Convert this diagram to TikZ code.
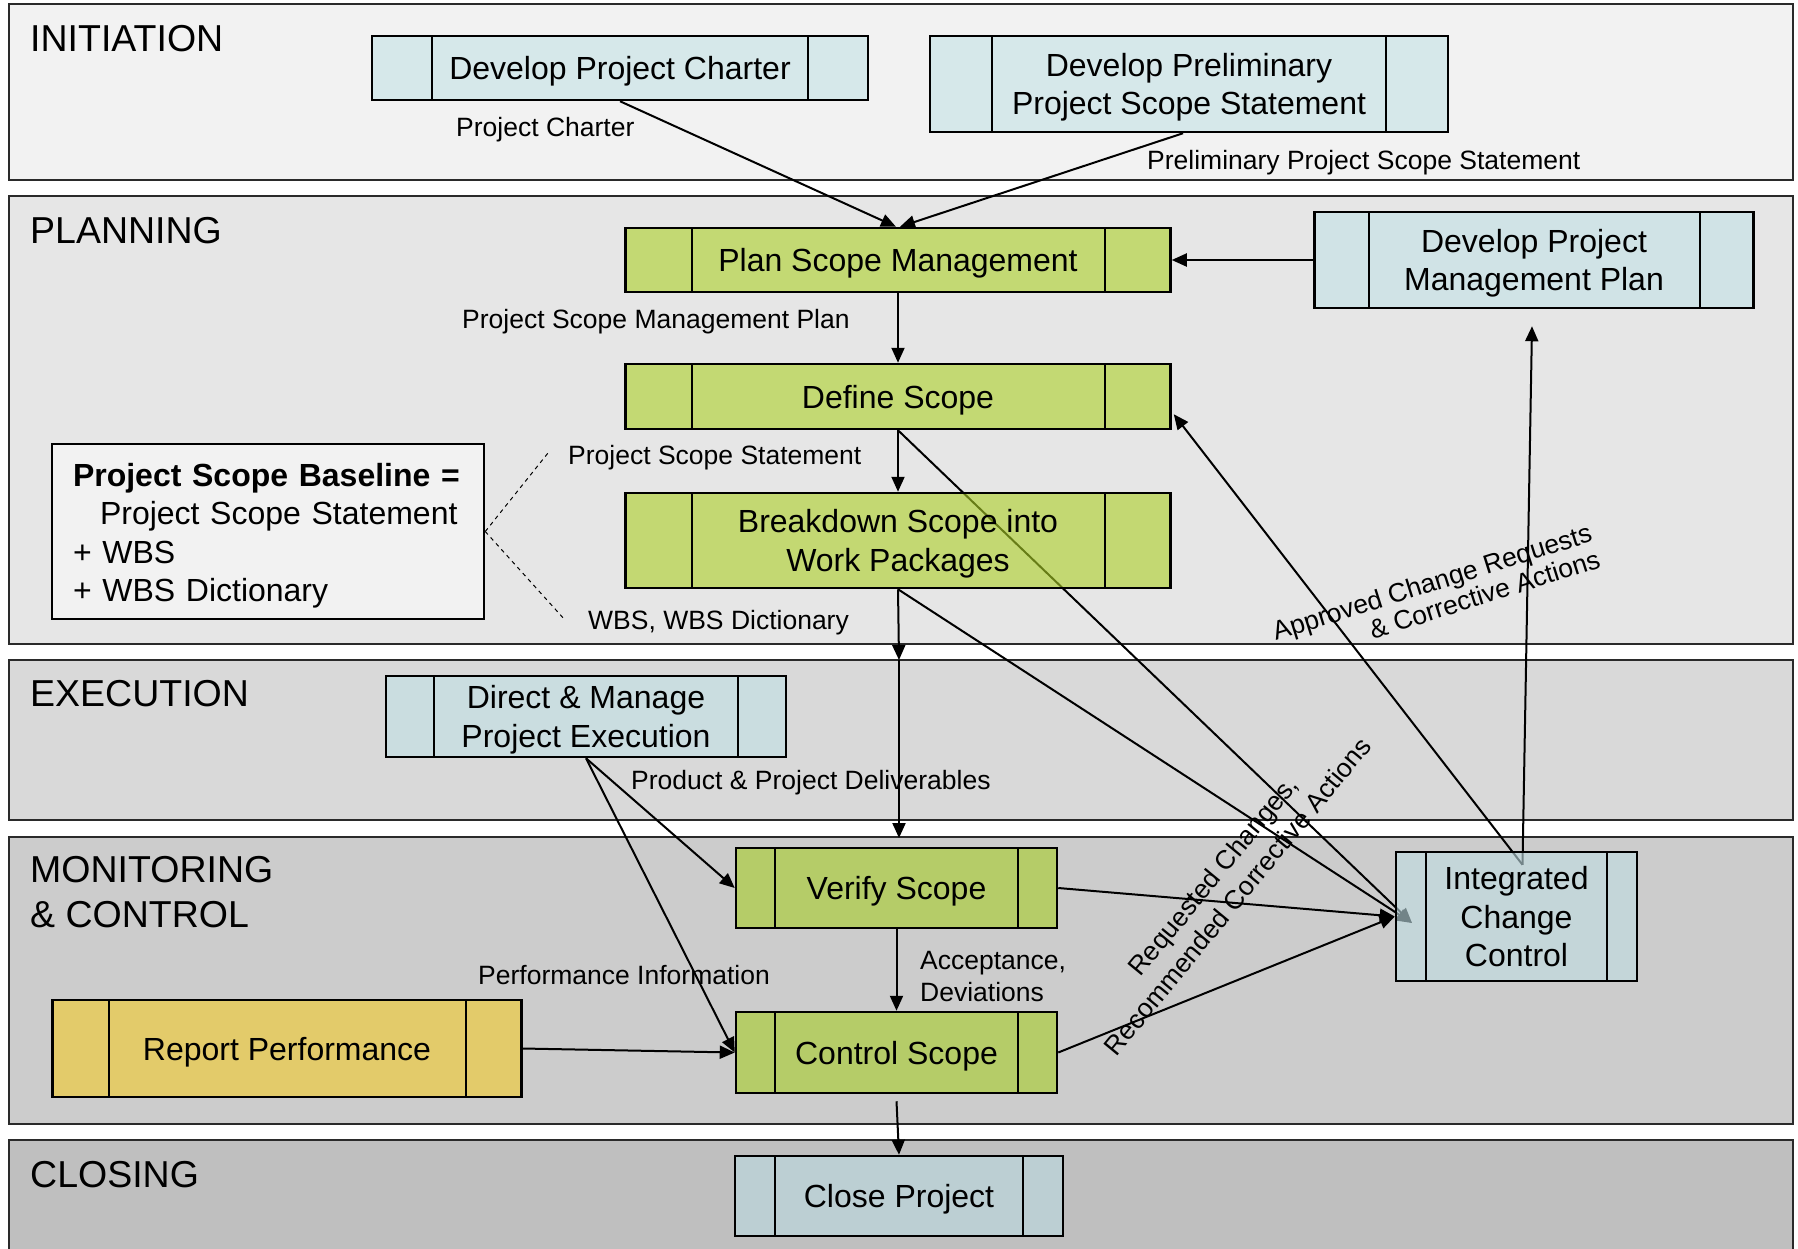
\documentclass[tikz,border=0pt]{standalone}
\usepackage{fontspec}
\setmainfont{Liberation Sans}
\usetikzlibrary{arrows.meta,calc}
\definecolor{laneI}{HTML}{F2F2F2}
\definecolor{laneP}{HTML}{E6E6E6}
\definecolor{laneE}{HTML}{D9D9D9}
\definecolor{laneM}{HTML}{CCCCCC}
\definecolor{laneC}{HTML}{BFBFBF}
\definecolor{blueI}{HTML}{D6E8EA}
\definecolor{blueP}{HTML}{D0E3E6}
\definecolor{blueE}{HTML}{CADDE0}
\definecolor{blueM}{HTML}{BFDDE3}
\definecolor{blueC}{HTML}{BCCFD3}
\definecolor{greenP}{HTML}{C3D973}
\definecolor{greenB}{HTML}{ACD026}
\definecolor{greenM}{HTML}{B5CC68}
\definecolor{goldR}{HTML}{E3CB6A}
\definecolor{laneline}{HTML}{2A2A2A}
\pgfdeclarelayer{lanes}
\pgfdeclarelayer{under}
\pgfsetlayers{lanes,under,main}
\tikzset{
  sidew/.store in=\sidew, sidew=60,
  procbox/.style={rectangle, draw=black, line width=2.5pt, inner sep=0pt, align=center,
    text depth=0pt, font=\fontsize{32}{38.5}\selectfont,
    path picture={
      \draw[line width=2pt] ([xshift=\sidew pt]path picture bounding box.north west) -- ([xshift=\sidew pt]path picture bounding box.south west);
      \draw[line width=2pt] ([xshift=-\sidew pt]path picture bounding box.north east) -- ([xshift=-\sidew pt]path picture bounding box.south east);
    }},
  basebox/.style={rectangle, draw=black, line width=2.5pt, fill=laneI, inner sep=0pt, align=left,
    text width=390pt, font=\fontsize{32}{38.5}\selectfont},
  lane/.style={draw=laneline, line width=2pt},
  lanetitle/.style={inner sep=0pt, font=\fontsize{37.5}{45}\selectfont},
  lbl/.style={inner sep=0pt, font=\fontsize{26.5}{31}\selectfont},
  conn/.style={line width=2pt, -{Triangle[length=15pt,width=13pt]}},
  dashline/.style={line width=1pt, dash pattern=on 4pt off 4pt}
}
\begin{document}
\begin{tikzpicture}[x=1pt,y=-1pt]
\useasboundingbox (0,0) rectangle (1798,1248);
\clip (0,0) rectangle (1798,1248);
\begin{pgfonlayer}{lanes}
\fill[white] (0,0) rectangle (1798,1248);
\draw[lane, fill=laneI] (9,4) rectangle (1793,180);
\draw[lane, fill=laneP] (9,196) rectangle (1793,644);
\draw[lane, fill=laneE] (9,660) rectangle (1793,820);
\draw[lane, fill=laneM] (9,837) rectangle (1793,1124);
\draw[lane, fill=laneC] (9,1140) rectangle (1793,1280);
\end{pgfonlayer}

% lane titles
\node[lanetitle, anchor=base west] (tinit) at (30,51) {INITIATION};
\node[lanetitle, anchor=base west] (tplan) at (30,243) {PLANNING};
\node[lanetitle, anchor=base west] (texec) at (30,706) {EXECUTION};
\node[lanetitle, anchor=west, align=left] (tmon) at (30,892.5) {MONITORING\\\& CONTROL};
\node[lanetitle, anchor=base west] (tclose) at (30,1187) {CLOSING};

% process boxes
\node[procbox, fill=blueI, sidew=60, minimum width=496pt, minimum height=64pt] (charter) at (620,68) {Develop Project Charter};
\node[procbox, fill=blueI, sidew=62, minimum width=518pt, minimum height=96pt] (prelim) at (1189,84) {Develop Preliminary\\Project Scope Statement};
\node[procbox, fill=greenP, sidew=66, minimum width=545pt, minimum height=64pt] (plan) at (898,260) {Plan Scope Management};
\node[procbox, fill=blueP, sidew=54, minimum width=439pt, minimum height=96pt] (dpmp) at (1534,260) {Develop Project\\Management Plan};
\node[procbox, fill=greenP, sidew=66, minimum width=545pt, minimum height=65pt] (define) at (898,396.5) {Define Scope};
\node[procbox, fill=greenB, fill opacity=0.6, text opacity=1, sidew=66, minimum width=545pt, minimum height=95pt] (breakdown) at (898,540.5) {Breakdown Scope into\\Work Packages};
\node[basebox, minimum width=432pt, minimum height=175pt] (baseline) at (268,531.5) {\rule{0pt}{32pt}\textbf{Project Scope Baseline =}\\\hspace*{27pt}Project Scope Statement\\+ WBS\\+ WBS Dictionary};
\node[procbox, fill=blueE, sidew=48, minimum width=400pt, minimum height=81pt] (direct) at (586,716.5) {Direct \& Manage\\Project Execution};
\node[procbox, fill=greenM, sidew=39, minimum width=321pt, minimum height=80pt] (verify) at (896.5,888) {Verify Scope};
\node[procbox, fill=greenM, sidew=39, minimum width=321pt, minimum height=81pt] (control) at (896.5,1052.5) {Control Scope};
\node[procbox, fill=goldR, sidew=56, minimum width=469pt, minimum height=97pt] (report) at (287,1048.5) {Report Performance};
\node[procbox, fill=blueM, fill opacity=0.6, text opacity=1, sidew=30, minimum width=241pt, minimum height=129pt] (icc) at (1516.5,916.5) {Integrated\\Change\\Control};
\node[procbox, fill=blueC, sidew=40, minimum width=328pt, minimum height=80pt] (close) at (899,1196) {Close Project};

% free ends
\coordinate (exectop) at (899,660);
\coordinate (montop) at (899,838);
\coordinate (iccin) at (1412,923);
\coordinate (dashA) at (548,453);
\coordinate (dashB) at (565,620);

% connectors
\draw[conn] (charter.south) -- ([xshift=-2pt]plan.north);
\draw[conn] ([xshift=-6pt]prelim.south) -- ([xshift=2pt]plan.north);
\draw[conn] (dpmp.west) -- (plan.east);
\draw[conn] (plan.south) -- (define.north);
\draw[conn] (define.south) -- (breakdown.north);
\draw[conn] (breakdown.south) -- (exectop);
\draw[conn] (exectop) -- (montop);
\draw[conn] (verify.south) -- (control.north);
\draw[conn] ([yshift=-7pt]control.south) -- (close.north);
\draw[conn] (direct.south) -- (verify.west);
\draw[conn] (direct.south) -- (control.west);
\draw[conn] (report.east) -- (control.west);
\draw[conn] (verify.east) -- (icc.west);
\draw[conn] (control.east) -- (icc.west);
\begin{pgfonlayer}{under}
\draw[conn] (define.south) -- (iccin);
\draw[conn] (breakdown.south) -- (iccin);
\draw[conn] ([shift={(6,14)}]icc.north) -- ([shift={(2,-16)}]define.south east);
\draw[conn] ([shift={(6,14)}]icc.north) -- ([shift={(-2,17)}]dpmp.south);
\end{pgfonlayer}
\draw[dashline] (baseline.east) -- (dashA);
\draw[dashline] (baseline.east) -- (dashB);

% labels
\node[lbl, anchor=base west] (lcharter) at (456,136.5) {Project Charter};
\node[lbl, anchor=base west] (lprelim) at (1147,169) {Preliminary Project Scope Statement};
\node[lbl, anchor=base west] (lpsmp) at (462,328) {Project Scope Management Plan};
\node[lbl, anchor=base west] (lpss) at (568,464) {Project Scope Statement};
\node[lbl, anchor=base west] (lwbs) at (588,629) {WBS, WBS Dictionary};
\node[lbl, anchor=base west] (lpd) at (631,789) {Product \& Project Deliverables};
\node[lbl, anchor=base west] (lpi) at (478,984) {Performance Information};
\node[lbl, anchor=west, align=left, font=\fontsize{26.5}{32}\selectfont] (lacc) at (920,976) {Acceptance,\\Deviations};
\node[lbl, rotate=17.5, align=right, font=\fontsize{26.5}{27.5}\selectfont] (lappr) at (1436,595) {Approved Change Requests\\\& Corrective Actions};
\node[lbl, rotate=50.5, align=center, font=\fontsize{26.5}{32}\selectfont] (lreq) at (1225,886) {Requested Changes,\\Recommended Corrective Actions};
\end{tikzpicture}
\end{document}
